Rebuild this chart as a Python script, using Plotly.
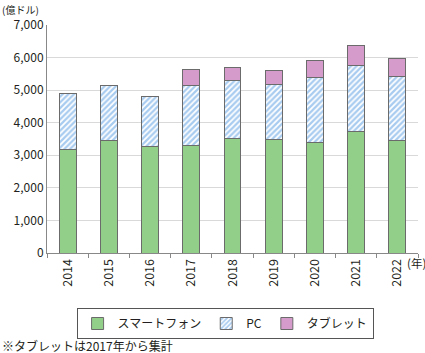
import plotly.graph_objects as go

years = ["2014", "2015", "2016", "2017", "2018", "2019", "2020", "2021", "2022"]
smartphone = [3190, 3460, 3260, 3290, 3510, 3490, 3380, 3720, 3440]
pc = [1700, 1670, 1530, 1850, 1790, 1670, 2010, 2050, 1970]
tablet = [None, None, None, 500, 410, 430, 520, 600, 550]
yticks = [0, 1000, 2000, 3000, 4000, 5000, 6000, 7000]
ytick_text = ["0", "1,000", "2,000", "3,000", "4,000", "5,000", "6,000", "7,000"]

font = "Noto Sans CJK JP"
line = dict(color="#6b6b6b", width=1)

fig = go.Figure()
fig.add_trace(go.Bar(x=years, y=smartphone, name="スマートフォン",
                     marker=dict(color="#92d08a", line=line)))
fig.add_trace(go.Bar(x=years, y=pc, name="PC",
                     marker=dict(color="white", line=line,
                                 pattern=dict(shape="/", fgcolor="#4f97e0", bgcolor="white",
                                              size=4, solidity=0.55))))
fig.add_trace(go.Bar(x=years, y=tablet, name="タブレット",
                     marker=dict(color="#d59bcb", line=line)))

T, B = 25, 100
plot_h = 353 - T - B

fig.update_layout(
    barmode="stack",
    bargap=0.59,
    width=425, height=353,
    margin=dict(l=47, r=7, t=T, b=B),
    paper_bgcolor="white", plot_bgcolor="white",
    font=dict(family=font, size=12, color="#231f20"),
    showlegend=True,
    legend=dict(orientation="h", x=0.48, xanchor="center", y=-55 / plot_h, yanchor="top",
                bordercolor="#555555", borderwidth=1, font=dict(size=12),
                itemwidth=30, traceorder="normal"),
    xaxis=dict(type="category", tickangle=-90, showline=True, linecolor="#888888",
               ticks="outside", tickson="boundaries", ticklen=4, tickcolor="#888888",
               tickfont=dict(size=12.5), showgrid=False),
    yaxis=dict(range=[0, 7000], tickvals=yticks, ticktext=ytick_text,
               showline=True, linecolor="#888888", gridcolor="#d9d9d9",
               tickfont=dict(size=12), zeroline=False, ticks=""),
    annotations=[
        dict(text="(億ドル)", xref="paper", yref="paper", x=-0.127, y=(plot_h + T) / plot_h,
             xanchor="left", yanchor="top", showarrow=False, font=dict(size=10)),
        dict(text="(年)", xref="paper", yref="paper", x=0.965, y=-10 / plot_h,
             xanchor="left", yanchor="middle", showarrow=False, font=dict(size=11.5)),
        dict(text="※タブレットは2017年から集計", xref="paper", yref="paper", x=-0.127,
             y=-92 / plot_h, xanchor="left", yanchor="middle", showarrow=False,
             font=dict(size=12)),
    ],
)

fig.write_html("out.html")
